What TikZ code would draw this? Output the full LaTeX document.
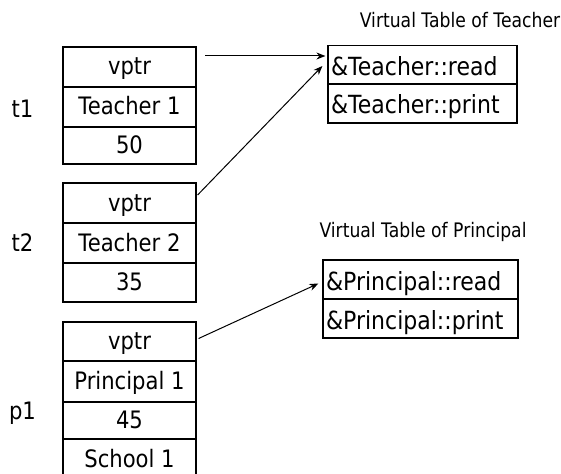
\documentclass[tikz,border=0pt]{standalone}
\usepackage{fontspec}
\setmainfont{DejaVu Sans}[FakeStretch=0.88]
\newfontfamily\titlefont{DejaVu Sans}[FakeStretch=0.86]
\usetikzlibrary{arrows.meta}
\begin{document}
\begin{tikzpicture}[x=1pt,y=-1pt,
  cell/.style={draw, line width=1.2pt, minimum width=133pt, minimum height=40pt,
    inner sep=0pt, font=\fontsize{24}{27}\selectfont, text height=18pt, text depth=2pt},
  vcell/.style={draw, line width=1.2pt, minimum height=39pt, inner sep=3pt,
    font=\fontsize{25}{28}\selectfont, text height=21pt, text depth=0pt, align=left},
  lbl/.style={font=\fontsize{24}{27}\selectfont, inner sep=0pt},
  ttl/.style={font=\titlefont\fontsize{20}{23}\selectfont, inner sep=0pt},
  ptr/.style={line width=1pt, -{Stealth[length=9pt,width=7pt]}}]
\useasboundingbox (0,0) rectangle (561,473);
\begin{scope}
\clip (0,0) rectangle (561,473);
% t1
\node[cell] (a1) at (129.5,67) {vptr};
\node[cell] (a2) at (129.5,107) {Teacher 1};
\node[cell, minimum height=37pt] (a3) at (129.5,145.5) {50};
% t2
\node[cell] (b1) at (129.5,203) {vptr};
\node[cell] (b2) at (129.5,243) {Teacher 2};
\node[cell, minimum height=39pt] (b3) at (129.5,282.5) {35};
% p1
\node[cell, minimum height=39pt] (c1) at (129.5,341.5) {vptr};
\node[cell, minimum height=41pt] (c2) at (129.5,381.5) {Principal 1};
\node[cell, minimum height=37pt] (c3) at (129.5,420.5) {45};
\node[cell, minimum height=41pt] (c4) at (129.5,459.5) {School 1};
\end{scope}
\node[lbl] (lt1) at (22.5,109) {t1};
\node[lbl] (lt2) at (22.5,243) {t2};
\node[lbl] (lp1) at (22.5,413) {p1};
% Teacher vtable
\node[ttl] (tt) at (460,20) {Virtual Table of Teacher};
\node[vcell, minimum width=189pt, text width=183pt] (tr) at (422.5,65) {\&Teacher::read};
\node[vcell, minimum width=189pt, text width=183pt] (tp) at (422.5,103.5) {\&Teacher::print};
% Principal vtable
\node[ttl] (pt) at (423,232) {Virtual Table of Principal};
\node[vcell, minimum width=195pt, text width=189pt] (pr) at (420.5,279.5) {\&Principal::read};
\node[vcell, minimum width=195pt, text width=189pt] (pp) at (420.5,318.5) {\&Principal::print};
% pointers
\coordinate (s1) at (205,56);
\draw[ptr] (s1) -- ([xshift=-2pt,yshift=9pt]tr.west);
\draw[ptr] ([xshift=1pt,yshift=8pt]b1.east) -- ([xshift=-5pt,yshift=-1pt]tr.west);
\draw[ptr] ([xshift=2pt,yshift=3pt]c1.east) -- ([xshift=-4pt,yshift=-4pt]pr.west);
\end{tikzpicture}
\end{document}
